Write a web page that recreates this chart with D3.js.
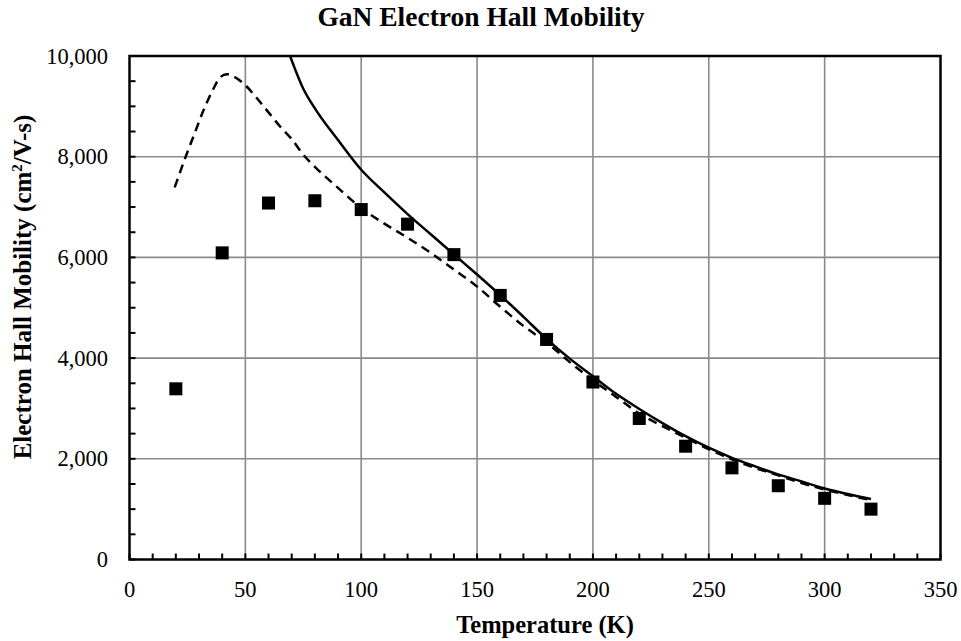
<!DOCTYPE html>
<html>
<head>
<meta charset="utf-8">
<script src="https://cdn.jsdelivr.net/npm/d3@7"></script>
<style>
  html, body { margin: 0; padding: 0; background: #fff; }
  svg { display: block; }
  text { font-family: "Liberation Serif", "Times New Roman", serif; fill: #000; }
</style>
</head>
<body>
<svg id="chart" width="961" height="641"></svg>
<script>
// ---- Data ----
const title = "GaN Electron Hall Mobility";
const xLabel = "Temperature (K)";
const yLabelMain = "Electron Hall Mobility (cm";
const yLabelSup = "2";
const yLabelEnd = "/V-s)";

// Measured Hall mobility (square markers)
const measuredT = [20, 40, 60, 80, 100, 120, 140, 160, 180, 200, 220, 240, 260, 280, 300, 320];
const measuredMu = [3390, 6090, 7080, 7125, 6950, 6660, 6055, 5245, 4370, 3525, 2800, 2250, 1820, 1465, 1215, 1000];

// Solid theory curve
const solidT = [69.3, 75, 80, 90, 100, 110, 120, 130, 140, 150, 160, 170, 180, 190, 200, 210, 220, 230, 240, 250, 260, 270, 280, 290, 300, 310, 320];
const solidMu = [10000, 9350, 8960, 8330, 7740, 7290, 6860, 6460, 6060, 5660, 5250, 4820, 4380, 3990, 3640, 3290, 2990, 2710, 2450, 2220, 2020, 1850, 1690, 1550, 1410, 1300, 1200];

// Dashed theory curve
const dashedT = [19.5, 24, 28, 32, 36, 39, 42, 45, 50, 55, 60, 65, 70, 75, 80, 90, 100, 110, 120, 130, 140, 150, 160, 170, 180, 190, 200, 210, 220, 230, 240, 250, 260, 270, 280, 290, 300, 310, 320];
const dashedMu = [7390, 7970, 8450, 8930, 9330, 9570, 9640, 9590, 9420, 9160, 8880, 8600, 8350, 8040, 7800, 7380, 6980, 6670, 6390, 6090, 5760, 5420, 5020, 4640, 4310, 3920, 3560, 3230, 2900, 2650, 2420, 2190, 1990, 1820, 1670, 1520, 1390, 1280, 1180];

const xTicks = [0, 50, 100, 150, 200, 250, 300, 350];
const yTicks = [0, 2000, 4000, 6000, 8000, 10000];

// ---- Layout ----
const svg = d3.select("#chart");
const pLeft = 129.5, pRight = 940.5, pTop = 56, pBottom = 559.5;

const x = d3.scaleLinear().domain([0, 350]).range([pLeft, pRight]);
const y = d3.scaleLinear().domain([0, 10000]).range([pBottom, pTop]);

// Gridlines
const grid = svg.append("g").attr("stroke", "#8a8a8a").attr("stroke-width", 1.6);
grid.selectAll(".vg").data(xTicks.slice(1, -1)).join("line")
  .attr("x1", d => x(d)).attr("x2", d => x(d))
  .attr("y1", pTop).attr("y2", pBottom);
grid.selectAll(".hg").data(yTicks.slice(1, -1)).join("line")
  .attr("x1", pLeft).attr("x2", pRight)
  .attr("y1", d => y(d)).attr("y2", d => y(d));

// Minor ticks (inside)
const xMinor = d3.range(0, 351, 10);
const yMinor = d3.range(0, 10001, 500);
const ticks = svg.append("g").attr("stroke", "#000").attr("stroke-width", 2);
ticks.selectAll(".xt").data(xMinor).join("line")
  .attr("x1", d => x(d)).attr("x2", d => x(d))
  .attr("y1", pBottom).attr("y2", pBottom - 6);
ticks.selectAll(".yt").data(yMinor).join("line")
  .attr("x1", pLeft).attr("x2", pLeft + 6)
  .attr("y1", d => y(d)).attr("y2", d => y(d));

// Clip path for curves
svg.append("clipPath").attr("id", "plotclip")
  .append("rect").attr("x", pLeft).attr("y", pTop).attr("width", pRight - pLeft).attr("height", pBottom - pTop);

const line = d3.line().x(d => x(d[0])).y(d => y(d[1])).curve(d3.curveMonotoneX);

svg.append("path")
  .datum(dashedT.map((t, i) => [t, dashedMu[i]]))
  .attr("clip-path", "url(#plotclip)")
  .attr("fill", "none").attr("stroke", "#000").attr("stroke-width", 2.5)
  .attr("stroke-dasharray", "9,6")
  .attr("d", line);

svg.append("path")
  .datum(solidT.map((t, i) => [t, solidMu[i]]))
  .attr("clip-path", "url(#plotclip)")
  .attr("fill", "none").attr("stroke", "#000").attr("stroke-width", 2.5)
  .attr("d", line);

// Markers
const ms = 13;
svg.append("g").selectAll("rect").data(measuredT.map((t, i) => [t, measuredMu[i]])).join("rect")
  .attr("x", d => x(d[0]) - ms / 2).attr("y", d => y(d[1]) - ms / 2)
  .attr("width", ms).attr("height", ms).attr("fill", "#000");

// Frame
svg.append("rect").attr("x", pLeft).attr("y", pTop).attr("width", pRight - pLeft).attr("height", pBottom - pTop)
  .attr("fill", "none").attr("stroke", "#000").attr("stroke-width", 2.5);

// Tick labels
const fmt = d3.format(",");
svg.append("g").selectAll("text").data(xTicks).join("text")
  .attr("x", d => x(d)).attr("y", 597)
  .attr("text-anchor", "middle").attr("font-size", 22.5)
  .text(d => d);
svg.append("g").selectAll("text").data(yTicks).join("text")
  .attr("x", 108).attr("y", d => y(d) + 7.5)
  .attr("text-anchor", "end").attr("font-size", 22.5)
  .text(d => fmt(d));

// Title
svg.append("text").attr("x", 481).attr("y", 26)
  .attr("text-anchor", "middle").attr("font-size", 27.5).attr("font-weight", "bold")
  .text(title);

// X axis label
svg.append("text").attr("x", 545).attr("y", 633)
  .attr("text-anchor", "middle").attr("font-size", 24.5).attr("font-weight", "bold")
  .text(xLabel);

// Y axis label
const yl = svg.append("text")
  .attr("transform", "translate(31,287) rotate(-90)")
  .attr("text-anchor", "middle").attr("font-size", 25).attr("font-weight", "bold");
yl.append("tspan").text(yLabelMain);
yl.append("tspan").attr("font-size", 15).attr("dy", -9).text(yLabelSup);
yl.append("tspan").attr("dy", 9).text(yLabelEnd);
</script>
</body>
</html>
